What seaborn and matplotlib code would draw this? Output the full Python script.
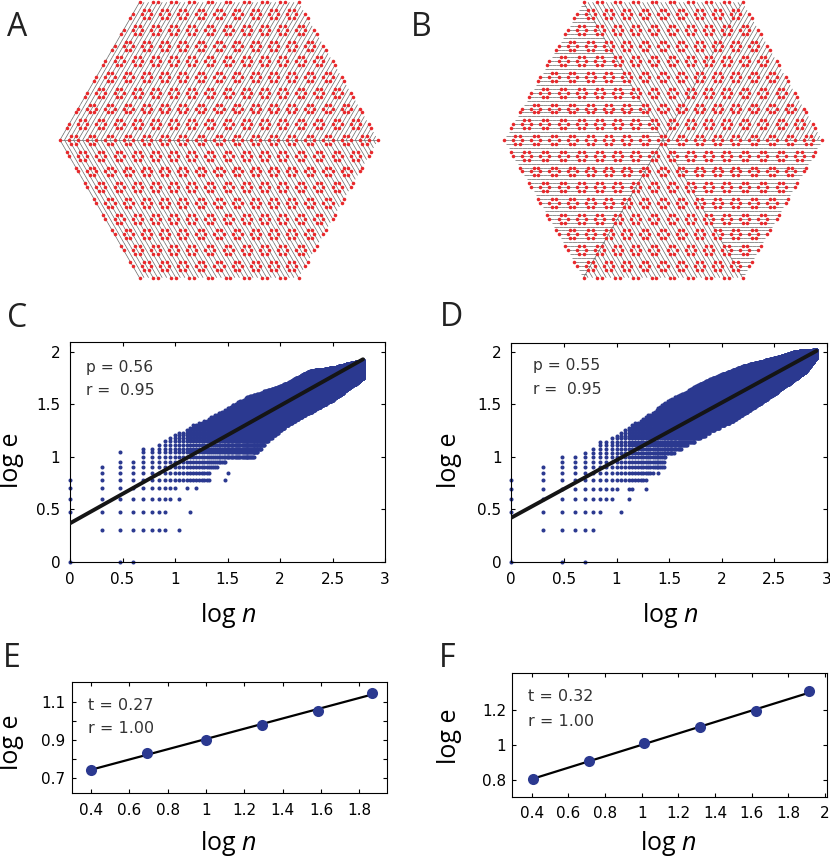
import numpy as np
import pandas as pd
import matplotlib
matplotlib.use("Agg")
import matplotlib.pyplot as plt
from matplotlib.collections import LineCollection
import seaborn as sns

W, H = 830, 858
sns.set_theme(style="ticks")
plt.rcParams['font.family'] = ['DejaVu Sans']
plt.rcParams['mathtext.fontset'] = 'custom'
plt.rcParams['mathtext.rm'] = 'Open Sans'
plt.rcParams['mathtext.it'] = 'Open Sans:italic'

BLUE = "#2B3990"
RED = "#E8282B"
EDGE = "#666666"
TXT = "#333333"

# ---------------- data ----------------
# panels A / B : hexagonal lattice networks
hex_radius_A = 35
hex_radius_B = 35

# panel C : (n, e) lattice -- explicit columns for small n
C_col_n = [1, 2, 3, 4, 5, 6, 7, 8, 9, 10]
C_col_lo = [3, 2, 2, 2, 2, 2, 2, 2, 4, 5]
C_col_hi = [6, 8, 9, 9, 12, 12, 13, 14, 15, 16]
C_extra_n = [1, 3, 4, 3, 11, 14, 11, 13, 16, 30, 32, 36, 56, 69, 107]
C_extra_e = [1, 1, 1, 11, 2, 3, 4, 5, 5, 6, 7, 31, 11, 14, 19]
# envelope of the dense cloud (log n -> log e)
C_lo_logn = [1.04, 1.33, 1.34, 1.41, 1.43, 1.48, 1.49, 1.75, 1.87, 2.03, 2.19, 2.50, 2.79]
C_lo_loge = [0.778, 0.778, 0.903, 0.903, 0.954, 0.954, 1.00, 1.00, 1.13, 1.27, 1.37, 1.54, 1.75]
C_hi_logn = [1.04, 1.11, 1.23, 1.32, 1.49, 1.71, 2.00, 2.29, 2.51, 2.79]
C_hi_loge = [1.23, 1.27, 1.33, 1.37, 1.46, 1.58, 1.67, 1.82, 1.85, 1.92]
C_n_max = 617
C_line_x = [0.0, 2.79]
C_line_y = [0.366, 1.93]

# panel D
D_col_n = [1, 2, 3, 4, 5, 6, 7, 8, 9, 10]
D_col_lo = [3, 2, 1, 2, 1, 2, 3, 4, 4, 5]
D_col_hi = [6, 8, 10, 10, 11, 12, 14, 14, 15, 16]
D_extra_n = [1, 11, 13, 13, 14, 19, 25]
D_extra_e = [1, 3, 4, 5, 5, 5, 7]
D_lo_logn = [1.04, 1.30, 1.32, 1.36, 1.38, 1.45, 1.47, 1.52, 1.65, 1.77, 1.90, 2.09, 2.32, 2.54, 2.79, 2.90]
D_lo_loge = [0.778, 0.778, 0.845, 0.845, 0.903, 0.903, 1.00, 1.02, 1.10, 1.16, 1.24, 1.33, 1.48, 1.63, 1.81, 1.95]
D_hi_logn = [1.04, 1.14, 1.26, 1.36, 1.49, 1.68, 1.84, 2.19, 2.54, 2.70, 2.90]
D_hi_loge = [1.23, 1.31, 1.37, 1.44, 1.54, 1.63, 1.72, 1.86, 1.95, 2.00, 2.02]
D_n_max = 794
D_line_x = [0.0, 2.90]
D_line_y = [0.422, 2.01]

# panels E / F
E_x = [0.40, 0.695, 0.998, 1.29, 1.586, 1.868]
E_y = [0.739, 0.832, 0.898, 0.979, 1.053, 1.147]
F_x = [0.404, 0.712, 1.015, 1.319, 1.622, 1.913]
F_y = [0.806, 0.909, 1.010, 1.105, 1.192, 1.307]

C_text = ["p = 0.56", "r =  0.95"]
D_text = ["p = 0.55", "r =  0.95"]
E_text = ["t = 0.27", "r = 1.00"]
F_text = ["t = 0.32", "r = 1.00"]
ticks_CD = [0, 0.5, 1, 1.5, 2, 2.5, 3]
yticks_CD = [0, 0.5, 1, 1.5, 2]
xticks_E = [0.4, 0.6, 0.8, 1.0, 1.2, 1.4, 1.6, 1.8]
yticks_E = [0.7, 0.8, 0.9, 1.0, 1.1]
yticklabels_E = ['0.7', '', '0.9', '', '1.1']
xticks_F = [0.4, 0.6, 0.8, 1.0, 1.2, 1.4, 1.6, 1.8, 2.0]
yticks_F = [0.8, 1.0, 1.2]


# ---------------- helpers ----------------
def rect(left, top, right, bottom):
    return [left / W, 1 - bottom / H, (right - left) / W, (bottom - top) / H]


def lattice_cloud(col_n, col_lo, col_hi, extra_n, extra_e, lo_x, lo_y, hi_x, hi_y, n_max):
    ns, es = [], []
    for n, lo, hi in zip(col_n, col_lo, col_hi):
        for e in range(lo, hi + 1):
            ns.append(n)
            es.append(e)
    for n in range(max(col_n) + 1, n_max + 1):
        x = np.log10(n)
        lo = np.interp(x, lo_x, lo_y)
        hi = np.interp(x, hi_x, hi_y)
        for e in range(int(np.ceil(10 ** lo - 1e-6)), int(np.floor(10 ** hi + 1e-6)) + 1):
            ns.append(n)
            es.append(e)
    ns += list(extra_n)
    es += list(extra_e)
    return pd.DataFrame({"logn": np.log10(ns), "loge": np.log10(es)})


def hex_nodes(R):
    return [(q, r) for q in range(-R, R + 1) for r in range(-R, R + 1) if abs(q + r) <= R]


def xy(q, r):
    return (q + r / 2.0, r * np.sqrt(3) / 2.0)


def parent_A(q, r, R):
    if r == 0:
        return (q - 1, 0) if q > -R else None
    if r > 0:
        return (q, r - 1)
    return (q - 1, r + 1)


DIRS = [(1, 0), (1, -1), (0, -1), (-1, 0), (-1, 1), (0, 1)]


def hdist(q, r):
    return max(abs(q), abs(r), abs(q + r))


def parent_B(q, r, R):
    d = hdist(q, r)
    if d == 0:
        return None
    for dq, dr in DIRS:
        if hdist(q + dq, r + dr) < d:
            return (q + dq, r + dr)
    return None


def ring_node(q, r):
    # nodes on small hexagonal rings around a coarse super-lattice of centres
    for dq, dr in DIRS:
        cq, cr = q - dq, r - dr
        if cq % 4 == 0 and cr % 4 == 0:
            return True
    return False


def draw_network(ax, R, parent_fn):
    nodes = hex_nodes(R)
    segs = []
    for q, r in nodes:
        p = parent_fn(q, r, R)
        if p is not None:
            segs.append([xy(q, r), xy(*p)])
    ax.add_collection(LineCollection(segs, colors=EDGE, linewidths=0.5, zorder=1))
    dots = pd.DataFrame([xy(q, r) for q, r in nodes if ring_node(q, r)], columns=["x", "y"])
    sns.scatterplot(data=dots, x="x", y="y", ax=ax, s=6.5, color=RED, linewidth=0, zorder=2)
    m = 0.7
    ax.set_xlim(-R - m, R + m)
    ax.set_ylim(-R * np.sqrt(3) / 2 - m, R * np.sqrt(3) / 2 + m)
    ax.set_axis_off()


def style_axes(ax, labelsize, pad_x, pad_y):
    for s in ax.spines.values():
        s.set_color("black")
        s.set_linewidth(0.8)
    ax.tick_params(direction="in", top=True, right=True, length=2.6, width=0.8,
                   labelsize=labelsize, colors="black")
    ax.tick_params(axis="x", pad=pad_x)
    ax.tick_params(axis="y", pad=pad_y)
    ax.set_xlabel("")
    ax.set_ylabel("")


# ---------------- figure ----------------
fig = plt.figure(figsize=(W / 100, H / 100), dpi=100)

# A / B networks
for cx, R, pfn in [(219, hex_radius_A, parent_A), (663, hex_radius_B, parent_B)]:
    a_px = 159.0 / R
    hw = R * a_px + 0.7 * a_px
    hh = R * np.sqrt(3) / 2 * a_px + 0.7 * a_px
    ax = fig.add_axes(rect(cx - hw, 140 - hh, cx + hw, 140 + hh))
    draw_network(ax, R, pfn)

# C / D scatter
for (l, t, r_, b), cloud_args, lx, ly, txt, txt_x, txt_b in [
    ((70, 342.5, 385, 561.7),
     (C_col_n, C_col_lo, C_col_hi, C_extra_n, C_extra_e, C_lo_logn, C_lo_loge, C_hi_logn, C_hi_loge, C_n_max),
     C_line_x, C_line_y, C_text, 86, (371.5, 395)),
    ((511.3, 342.5, 827, 562),
     (D_col_n, D_col_lo, D_col_hi, D_extra_n, D_extra_e, D_lo_logn, D_lo_loge, D_hi_logn, D_hi_loge, D_n_max),
     D_line_x, D_line_y, D_text, 533, (369.5, 393.5)),
]:
    ax = fig.add_axes(rect(l, t, r_, b))
    df = lattice_cloud(*cloud_args)
    sns.scatterplot(data=df, x="logn", y="loge", ax=ax, s=8.5, color=BLUE, linewidth=0,
                    zorder=2, clip_on=False)
    sns.lineplot(x=lx, y=ly, ax=ax, color="#151515", lw=2.8, zorder=3)
    ax.set_xlim(0, 3)
    ax.set_ylim(0, 2.09)
    ax.set_xticks(ticks_CD)
    ax.set_xticklabels(['%g' % v for v in ticks_CD])
    ax.set_yticks(yticks_CD)
    ax.set_yticklabels(['%g' % v for v in yticks_CD])
    style_axes(ax, 11, 7.5, 7)
    for s_, yb in zip(txt, txt_b):
        fig.text(txt_x / W, 1 - yb / H, s_, fontsize=11.2, color=TXT, va="baseline", ha="left")

# E / F
for (l, t, r_, b), xs, ys, xlim, ylim, xt, yt, ytl, txt, txt_x, txt_b, pad_y in [
    ((72.3, 682.3, 386.7, 793.3), E_x, E_y, (0.303, 1.943), (0.618, 1.202),
     xticks_E, yticks_E, yticklabels_E, E_text, 88.3, (710, 732.7), 5),
    ((511.7, 673.3, 826.7, 796.7), F_x, F_y, (0.29, 2.01), (0.705, 1.41),
     xticks_F, yticks_F, ['%g' % v for v in yticks_F], F_text, 528.3, (700.7, 726), 4),
]:
    ax = fig.add_axes(rect(l, t, r_, b))
    sns.regplot(x=xs, y=ys, ax=ax, ci=None, color=BLUE,
                scatter_kws=dict(s=64, linewidths=0, zorder=3, alpha=1),
                line_kws=dict(color="black", lw=1.6, zorder=2))
    ax.set_xlim(*xlim)
    ax.set_ylim(*ylim)
    ax.set_xticks(xt)
    ax.set_xticklabels(['%g' % v for v in xt])
    ax.set_yticks(yt)
    ax.set_yticklabels(ytl)
    style_axes(ax, 11, 7, pad_y)
    for s_, yb in zip(txt, txt_b):
        fig.text(txt_x / W, 1 - yb / H, s_, fontsize=11.5, color=TXT, va="baseline", ha="left")

# axis labels
lab_kw = dict(fontsize=18, color="black", family=["Open Sans", "DejaVu Sans"])
for x, y in [(12, 460), (449, 460), (11, 742), (449.5, 736)]:
    fig.text(x / W, 1 - y / H, "log e", rotation=90, ha="center", va="center", **lab_kw)
for x, yb in [(228, 622.5), (670, 622.5), (228, 850), (668, 849.5)]:
    fig.text(x / W, 1 - yb / H, r"log $n$", ha="center", va="baseline", **lab_kw)

# panel letters
for letter, x, yb in [("A", 7, 36), ("B", 411, 36), ("C", 7, 327), ("D", 440, 326),
                      ("E", 3, 667), ("F", 439, 667)]:
    fig.text(x / W, 1 - yb / H, letter, fontsize=23, color="#222222", ha="left", va="baseline",
             family=["Open Sans", "DejaVu Sans"])

fig.savefig("out.png", dpi=100, facecolor="white")
